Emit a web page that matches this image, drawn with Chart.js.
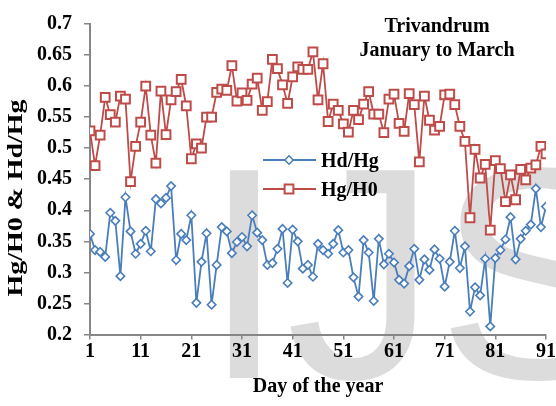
<!DOCTYPE html>
<html>
<head>
<meta charset="utf-8">
<title>Trivandrum January to March</title>
<script src="https://cdn.jsdelivr.net/npm/chart.js@4.4.1/dist/chart.umd.min.js"></script>
<style>
  html, body { margin: 0; padding: 0; background: #fff; }
  #chart { display: block; }
</style>
</head>
<body>
<canvas id="chart" width="556" height="406"></canvas>
<script>
// --- data ---
const days = [
  1, 2, 3, 4, 5, 6, 7, 8, 9, 10,
  11, 12, 13, 14, 15, 16, 17, 18, 19, 20,
  21, 22, 23, 24, 25, 26, 27, 28, 29, 30,
  31, 32, 33, 34, 35, 36, 37, 38, 39, 40,
  41, 42, 43, 44, 45, 46, 47, 48, 49, 50,
  51, 52, 53, 54, 55, 56, 57, 58, 59, 60,
  61, 62, 63, 64, 65, 66, 67, 68, 69, 70,
  71, 72, 73, 74, 75, 76, 77, 78, 79, 80,
  81, 82, 83, 84, 85, 86, 87, 88, 89, 90,
  91
];

const hdHg = [
  0.362, 0.336, 0.333, 0.325, 0.396, 0.383, 0.294, 0.421, 0.366, 0.330,
  0.346, 0.367, 0.334, 0.418, 0.411, 0.420, 0.439, 0.320, 0.362, 0.352,
  0.392, 0.251, 0.317, 0.363, 0.248, 0.312, 0.373, 0.366, 0.331, 0.349,
  0.357, 0.342, 0.392, 0.364, 0.352, 0.312, 0.315, 0.338, 0.370, 0.283,
  0.369, 0.350, 0.306, 0.312, 0.293, 0.346, 0.336, 0.330, 0.346, 0.368,
  0.332, 0.336, 0.292, 0.261, 0.352, 0.332, 0.254, 0.354, 0.313, 0.330,
  0.316, 0.288, 0.282, 0.310, 0.338, 0.288, 0.321, 0.304, 0.337, 0.322,
  0.277, 0.317, 0.367, 0.307, 0.342, 0.237, 0.276, 0.263, 0.322, 0.213,
  0.323, 0.336, 0.353, 0.389, 0.321, 0.354, 0.367, 0.377, 0.435, 0.373,
  0.406
];

const hgH0 = [
  0.528, 0.472, 0.521, 0.582, 0.554, 0.542, 0.584, 0.579, 0.446, 0.503,
  0.542, 0.600, 0.521, 0.476, 0.592, 0.522, 0.578, 0.591, 0.611, 0.568,
  0.483, 0.507, 0.500, 0.550, 0.550, 0.590, 0.595, 0.593, 0.633, 0.576,
  0.589, 0.577, 0.603, 0.613, 0.561, 0.575, 0.643, 0.628, 0.602, 0.572,
  0.615, 0.631, 0.627, 0.627, 0.655, 0.578, 0.636, 0.543, 0.571, 0.561,
  0.539, 0.526, 0.561, 0.546, 0.571, 0.591, 0.555, 0.555, 0.525, 0.579,
  0.587, 0.540, 0.527, 0.588, 0.570, 0.478, 0.584, 0.545, 0.529, 0.535,
  0.586, 0.587, 0.570, 0.535, 0.511, 0.388, 0.498, 0.452, 0.474, 0.368,
  0.480, 0.467, 0.414, 0.457, 0.417, 0.466, 0.449, 0.468, 0.473, 0.503,
  0.491
];

const xTicks = [1, 11, 21, 31, 41, 51, 61, 71, 81, 91];
const yTicks = [0.2, 0.25, 0.3, 0.35, 0.4, 0.45, 0.5, 0.55, 0.6, 0.65, 0.7];

const titleLines = ['Trivandrum', 'January to March'];
const xTitle = 'Day of the year';
const yTitle = 'Hg/H0 & Hd/Hg';
const watermark = 'IJS';

const BLUE = '#4a7ebb';
const RED = '#be4b48';
const AXIS = '#868686';
const SERIF = '"Liberation Serif", "Times New Roman", serif';

// grey "IJS" stamp behind everything
const watermarkPlugin = {
  id: 'watermark',
  beforeDraw(chart) {
    const ctx = chart.ctx;
    ctx.save();
    ctx.font = '302px "Liberation Sans", Arial, sans-serif';
    ctx.fillStyle = '#dcdcdc';
    ctx.textBaseline = 'alphabetic';
    ctx.fillText(watermark, 202, 378);
    ctx.restore();
  }
};

// Excel style legend (line + marker), title block and y axis title
const overlayPlugin = {
  id: 'overlay',
  afterDraw(chart) {
    const ctx = chart.ctx;
    ctx.save();
    ctx.fillStyle = '#000';
    ctx.font = 'bold 20px ' + SERIF;

    // title at top right
    ctx.textAlign = 'center';
    ctx.textBaseline = 'alphabetic';
    ctx.fillText(titleLines[0], 437, 32);
    ctx.fillText(titleLines[1], 437, 55.5);

    // legend
    const rows = [160, 189];
    chart.data.datasets.forEach((ds, i) => {
      const y = rows[i];
      ctx.strokeStyle = ds.borderColor;
      ctx.lineWidth = ds.borderWidth;
      ctx.beginPath();
      ctx.moveTo(263, y);
      ctx.lineTo(316, y);
      ctx.stroke();
      ctx.fillStyle = '#fff';
      ctx.lineWidth = ds.pointBorderWidth;
      Chart.helpers.drawPoint(ctx, {
        pointStyle: ds.pointStyle, radius: ds.pointRadius,
        borderWidth: ds.pointBorderWidth, rotation: 0
      }, 289, y);
      ctx.fillStyle = '#000';
      ctx.textAlign = 'left';
      ctx.fillText(ds.label, 321, y + 6.5);
    });

    // y axis title, stretched along its length like the original
    ctx.translate(21.5, 198);
    ctx.rotate(-Math.PI / 2);
    const w = ctx.measureText(yTitle).width;
    ctx.scale(197 / w, 1);
    ctx.textAlign = 'center';
    ctx.fillText(yTitle, 0, 0);
    ctx.restore();
  }
};

new Chart(document.getElementById('chart'), {
  type: 'line',
  data: {
    labels: days,
    datasets: [
      {
        label: 'Hd/Hg', data: hdHg,
        borderColor: BLUE, borderWidth: 1.8,
        pointStyle: 'rectRot', pointRadius: 4.2, pointBorderWidth: 1.6,
        pointBackgroundColor: '#fff', pointBorderColor: BLUE,
        tension: 0, fill: false
      },
      {
        label: 'Hg/H0', data: hgH0,
        borderColor: RED, borderWidth: 1.8,
        pointStyle: 'rect', pointRadius: 6.2, pointBorderWidth: 2,
        pointBackgroundColor: '#fff', pointBorderColor: RED,
        tension: 0, fill: false
      }
    ]
  },
  options: {
    responsive: false,
    animation: false,
    devicePixelRatio: 1,
    layout: { padding: { top: 16.5, right: 10, left: 0, bottom: 0 } },
    plugins: {
      legend: { display: false },
      title: { display: false },
      tooltip: { enabled: false }
    },
    scales: {
      x: {
        type: 'linear',
        min: 1, max: 91,
        afterBuildTicks: axis => { axis.ticks = xTicks.map(v => ({ value: v })); },
        afterFit: axis => { axis.height = 71.5; },
        grid: { drawOnChartArea: false, drawTicks: true, tickLength: 5, color: AXIS, lineWidth: 1.5 },
        border: { display: true, color: AXIS, width: 2 },
        ticks: {
          autoSkip: false, maxRotation: 0, padding: 0,
          color: '#000', font: { family: SERIF, size: 20, weight: 'bold' },
          callback: v => String(v)
        },
        title: {
          display: true, text: xTitle, color: '#000',
          font: { family: SERIF, size: 20, weight: 'bold' },
          padding: { top: 0, bottom: 7.5 }
        }
      },
      y: {
        min: 0.2, max: 0.7,
        afterBuildTicks: axis => { axis.ticks = yTicks.map(v => ({ value: v })); },
        afterFit: axis => { axis.width = 90; },
        grid: { drawOnChartArea: false, drawTicks: true, tickLength: 6, color: AXIS, lineWidth: 1.5 },
        border: { display: true, color: AXIS, width: 2 },
        ticks: {
          padding: 12,
          color: '#000', font: { family: SERIF, size: 20, weight: 'bold' },
          callback: v => String(v)
        },
        title: { display: false }
      }
    }
  },
  plugins: [watermarkPlugin, overlayPlugin]
});
</script>
</body>
</html>
